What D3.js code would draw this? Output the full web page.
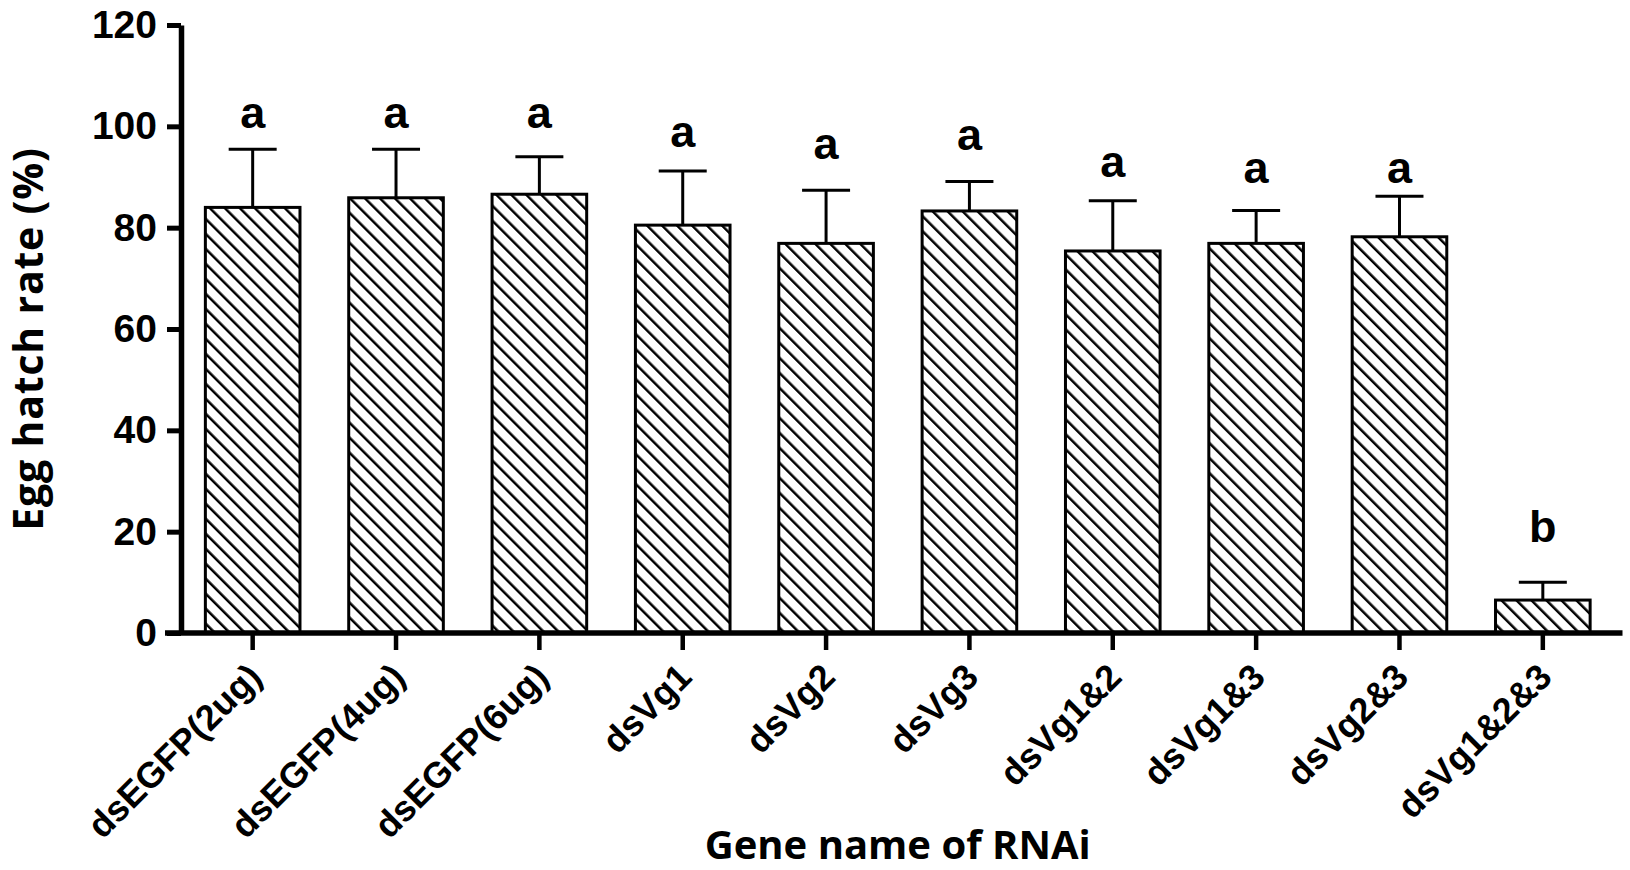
<!DOCTYPE html>
<html>
<head>
<meta charset="utf-8">
<script src="https://cdn.jsdelivr.net/npm/d3@7"></script>
<style>
  body { margin: 0; background: #fff; }
  svg { display: block; }
</style>
</head>
<body>
<div id="chart"></div>
<script>
// Egg hatch rate after RNAi
var groups = ["dsEGFP(2ug)", "dsEGFP(4ug)", "dsEGFP(6ug)", "dsVg1", "dsVg2", "dsVg3",
              "dsVg1&2", "dsVg1&3", "dsVg2&3", "dsVg1&2&3"];
var means = [84.0, 85.9, 86.6, 80.5, 76.9, 83.3, 75.4, 76.9, 78.2, 6.5];
var errTops = [95.5, 95.5, 94.0, 91.2, 87.4, 89.1, 85.3, 83.4, 86.2, 10.0];
var letters = ["a", "a", "a", "a", "a", "a", "a", "a", "a", "b"];
var letterY = [99.7, 99.7, 99.7, 95.9, 93.5, 95.3, 90.0, 88.8, 88.8, 18.0];
var yTicks = [0, 20, 40, 60, 80, 100, 120];

var W = 1630, H = 870;
// plot area (note: "top" is reserved on window, so use a margin object)
var plot = { left: 181, right: 1614.5, top: 25, bottom: 633 };

var svg = d3.select("#chart").append("svg")
    .attr("width", W)
    .attr("height", H);

// hatch pattern: "\" lines, about 15px apart horizontally
var hs = 10.6;
var defs = svg.append("defs");
var pat = defs.append("pattern")
    .attr("id", "hatch")
    .attr("patternUnits", "userSpaceOnUse")
    .attr("width", hs)
    .attr("height", hs)
    .attr("patternTransform", "rotate(-45)");
pat.append("rect").attr("width", hs).attr("height", hs).attr("fill", "#fff");
pat.append("line")
    .attr("x1", 0).attr("y1", 0).attr("x2", 0).attr("y2", hs)
    .attr("stroke", "#000").attr("stroke-width", 5);

var x = d3.scaleBand()
    .domain(groups)
    .range([plot.left, plot.right])
    .paddingInner(0.34)
    .paddingOuter(0.17);

var y = d3.scaleLinear()
    .domain([0, 120])
    .range([plot.bottom, plot.top]);

// bars
svg.selectAll(".bar")
    .data(groups)
    .enter().append("rect")
    .attr("class", "bar")
    .attr("x", function (d) { return x(d); })
    .attr("y", function (d, i) { return y(means[i]); })
    .attr("width", x.bandwidth())
    .attr("height", function (d, i) { return y(0) - y(means[i]); })
    .attr("fill", "url(#hatch)")
    .attr("stroke", "#000")
    .attr("stroke-width", 3);

// error bars (upper only) and significance letters
var capW = 48;
groups.forEach(function (g, i) {
    var cx = x(g) + x.bandwidth() / 2;
    svg.append("line")
        .attr("x1", cx).attr("x2", cx)
        .attr("y1", y(means[i])).attr("y2", y(errTops[i]))
        .attr("stroke", "#000").attr("stroke-width", 3);
    svg.append("line")
        .attr("x1", cx - capW / 2).attr("x2", cx + capW / 2)
        .attr("y1", y(errTops[i])).attr("y2", y(errTops[i]))
        .attr("stroke", "#000").attr("stroke-width", 3);
    svg.append("text")
        .attr("x", cx)
        .attr("y", y(letterY[i]))
        .attr("text-anchor", "middle")
        .attr("font-family", "Liberation Sans, Arial, sans-serif")
        .attr("font-weight", "bold")
        .attr("font-size", "45px")
        .text(letters[i]);
});

// y axis
var yAxis = d3.axisLeft(y)
    .tickValues(yTicks)
    .tickSize(14)
    .tickSizeOuter(0)
    .tickPadding(10);

var gy = svg.append("g")
    .attr("transform", "translate(" + plot.left + ",0)")
    .call(yAxis);
gy.select(".domain").attr("stroke-width", 5.5).attr("stroke", "#000");
gy.selectAll(".tick line").attr("stroke-width", 5).attr("stroke", "#000");
gy.selectAll(".tick text")
    .attr("font-family", "Liberation Sans, Arial, sans-serif")
    .attr("font-weight", "bold")
    .attr("font-size", "39px")
    .attr("fill", "#000");

// x axis
var xAxis = d3.axisBottom(x)
    .tickSize(17)
    .tickSizeOuter(0);

var gx = svg.append("g")
    .attr("transform", "translate(0," + plot.bottom + ")")
    .call(xAxis);
gx.select(".domain").remove();
gx.selectAll(".tick line").attr("stroke-width", 4.5).attr("stroke", "#000");
gx.selectAll(".tick text")
    .attr("font-family", "Liberation Sans, Arial, sans-serif")
    .attr("font-weight", "bold")
    .attr("font-size", "36px")
    .attr("fill", "#000")
    .attr("text-anchor", "end")
    .attr("dy", null)
    .attr("y", null)
    .attr("transform", "translate(11,46) rotate(-45)");

gx.append("line")
    .attr("x1", plot.left - 16).attr("x2", plot.right + 8)
    .attr("y1", 0).attr("y2", 0)
    .attr("stroke", "#000").attr("stroke-width", 5.5);

// axis titles
svg.append("text")
    .attr("x", (plot.left + plot.right) / 2)
    .attr("y", 859)
    .attr("text-anchor", "middle")
    .attr("font-family", "Open Sans, sans-serif")
    .attr("font-weight", "bold")
    .attr("font-size", "40px")
    .text("Gene name of RNAi");

svg.append("text")
    .attr("transform", "translate(43," + ((plot.top + plot.bottom) / 2 + 10) + ") rotate(-90)")
    .attr("text-anchor", "middle")
    .attr("font-family", "Open Sans, sans-serif")
    .attr("font-weight", "bold")
    .attr("font-size", "41px")
    .attr("letter-spacing", "0.8px")
    .text("Egg hatch rate (%)");
</script>
</body>
</html>
